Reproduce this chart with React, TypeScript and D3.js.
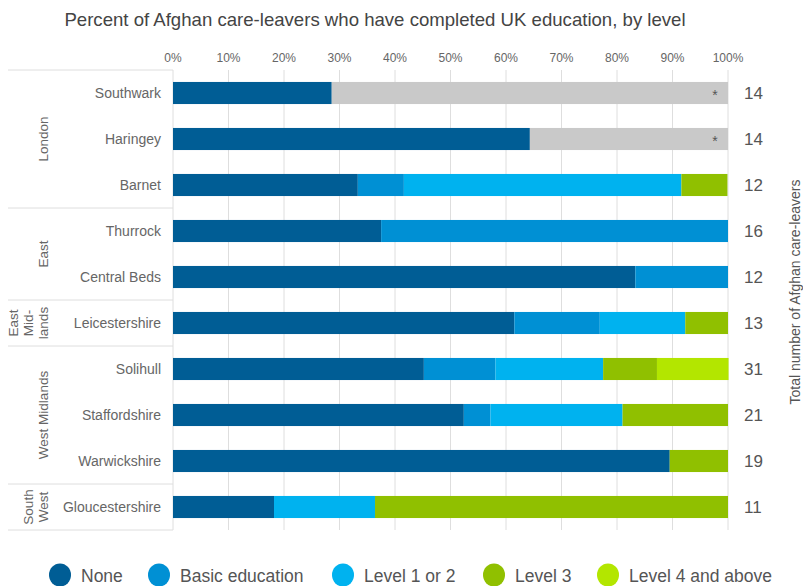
import React from "react";
import * as d3 from "d3";

// Local authorities, top to bottom
const areas = [
  "Southwark", "Haringey", "Barnet", "Thurrock", "Central Beds",
  "Leicestershire", "Solihull", "Staffordshire", "Warwickshire", "Gloucestershire",
];
const totals = [14, 14, 12, 16, 12, 13, 31, 21, 19, 11];

// percent of care-leavers per level (Southwark/Haringey only "None" known)
const levels = ["None", "Basic education", "Level 1 or 2", "Level 3", "Level 4 and above"];
const none = [28.6, 64.3, 33.3, 37.5, 83.3, 61.5, 45.2, 52.4, 89.5, 18.2];
const basic = [0, 0, 8.3, 62.5, 16.7, 15.4, 12.9, 4.8, 0, 0];
const level12 = [0, 0, 50.0, 0, 0, 15.4, 19.4, 23.8, 0, 18.2];
const level3 = [0, 0, 8.3, 0, 0, 7.7, 9.7, 19.0, 10.5, 63.6];
const level4 = [0, 0, 0, 0, 0, 0, 12.9, 0, 0, 0];
const unknown = [71.4, 35.7, 0, 0, 0, 0, 0, 0, 0, 0];

const regions = [
  { lines: ["London"], from: 0, to: 2 },
  { lines: ["East"], from: 3, to: 4 },
  { lines: ["East", "Mid-", "lands"], from: 5, to: 5 },
  { lines: ["West Midlands"], from: 6, to: 8 },
  { lines: ["South", "West"], from: 9, to: 9 },
];

const colors = ["#005d95", "#0090d4", "#00b2ef", "#90c000", "#b3e600"];
const ticks = [0, 10, 20, 30, 40, 50, 60, 70, 80, 90, 100];

const font = "'Liberation Sans', Arial, sans-serif";

export default function App() {
  const x = d3.scaleLinear().domain([0, 100]).range([173, 728]);
  const y = d3.scaleBand<string>().domain(areas).range([70, 530]).paddingInner(0.52).paddingOuter(0.26);
  const step = y.step();
  const top = 70;

  const series = [none, basic, level12, level3, level4];
  const rows = areas.map((a, i) => {
    const vals = series.map((s) => s[i]);
    const ends = d3.cumsum(vals);
    const segs = vals.map((v, k) => ({ x0: ends[k] - v, x1: ends[k], color: colors[k] }));
    if (unknown[i] > 0) segs.push({ x0: ends[4], x1: ends[4] + unknown[i], color: "#c9c9c9" });
    return { a, i, segs };
  });

  const legendX = [60, 159, 343, 494, 608];

  return (
    <svg width={803} height={586} style={{ position: "absolute", left: 0, top: 0, fontFamily: font }}>
      <rect width={803} height={586} fill="#fff" />
      <text x={375} y={26} textAnchor="middle" fontSize={18.6} fill="#444">
        Percent of Afghan care-leavers who have completed UK education, by level
      </text>

      {ticks.map((t) => (
        <g key={t}>
          <line x1={x(t)} x2={x(t)} y1={top} y2={530} stroke="#dedede" />
          <text x={x(t)} y={62} textAnchor="middle" fontSize={12} fill="#666">{t}%</text>
        </g>
      ))}

      {/* region separators */}
      {[0, 3, 5, 6, 9, 10].map((k) => (
        <line key={k} x1={8} x2={173} y1={top + k * step} y2={top + k * step} stroke="#dedede" />
      ))}

      {regions.map((r, j) => {
        const cy = top + ((r.from + r.to + 1) / 2) * step;
        const n = r.lines.length;
        return (
          <text key={j} transform={`translate(0,${cy}) rotate(-90)`} textAnchor="middle" fontSize={13.5} fill="#666">
            {r.lines.map((l, k) => (
              <tspan key={k} x={0} y={48 - (n - 1 - k) * 15}>{l}</tspan>
            ))}
          </text>
        );
      })}

      {rows.map(({ a, i, segs }) => {
        const yy = y(a)!;
        const cy = yy + y.bandwidth() / 2;
        return (
          <g key={a}>
            <text x={161} y={cy + 5} textAnchor="end" fontSize={14} fill="#666">{a}</text>
            {segs.filter((s) => s.x1 > s.x0).map((s, k) => (
              <rect key={k} x={x(s.x0)} y={yy} width={x(s.x1) - x(s.x0)} height={y.bandwidth()} fill={s.color} />
            ))}
            {unknown[i] > 0 && (
              <text x={715} y={cy + 7} textAnchor="middle" fontSize={14} fill="#555">*</text>
            )}
            <text x={744} y={cy + 6} fontSize={17} fill="#555">{totals[i]}</text>
          </g>
        );
      })}

      <text transform="translate(800,292) rotate(-90)" textAnchor="middle" fontSize={14} fill="#555">
        Total number of Afghan care-leavers
      </text>

      {levels.map((l, k) => (
        <g key={l}>
          <ellipse cx={legendX[k]} cy={575} rx={11} ry={11.5} fill={colors[k]} />
          <text x={legendX[k] + 21} y={582} fontSize={17.5} fill="#555">{l}</text>
        </g>
      ))}
    </svg>
  );
}
